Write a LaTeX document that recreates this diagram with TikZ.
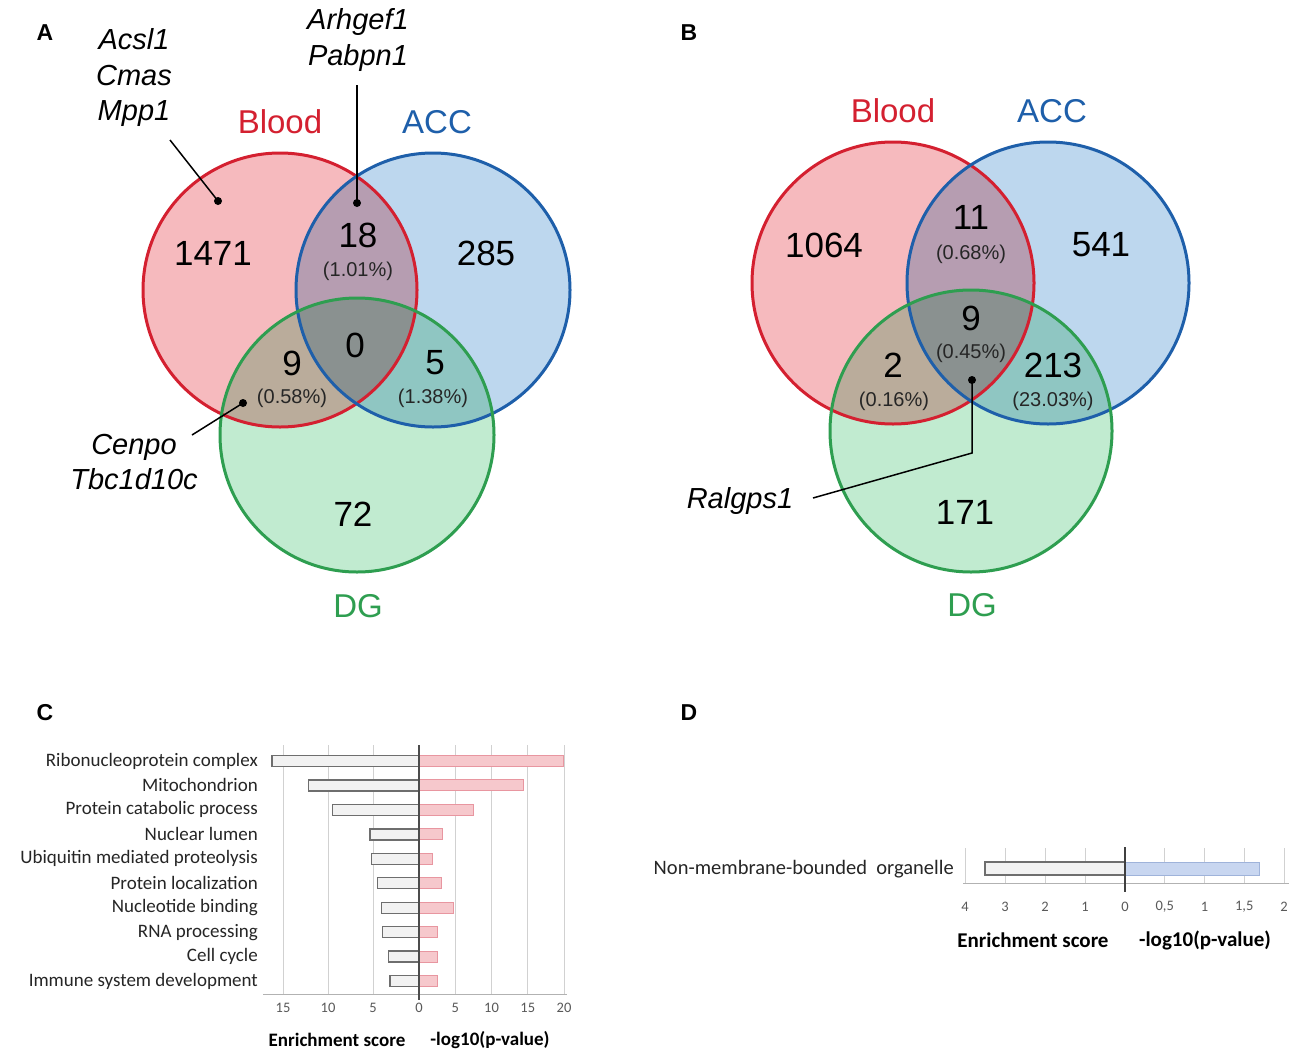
\documentclass[tikz,border=0pt]{standalone}
\usepackage{fontspec}
\setmainfont{Liberation Sans}
\newfontfamily\calfont{Carlito}
\newcommand\fsz[2]{\fontsize{#1pt}{#2pt}\selectfont}
\definecolor{cpink}{HTML}{F6BABE}
\definecolor{cblue}{HTML}{BDD7EE}
\definecolor{cgreen}{HTML}{C1EBD0}
\definecolor{cmauve}{HTML}{B69DB1}
\definecolor{ctan}{HTML}{BAAC9B}
\definecolor{cteal}{HTML}{8FC6C2}
\definecolor{cgray}{HTML}{8A9190}
\definecolor{sred}{HTML}{D42030}
\definecolor{sblue}{HTML}{1E5FAA}
\definecolor{sgreen}{HTML}{2E9E50}
\definecolor{rpinkf}{HTML}{F6C8CC}
\definecolor{rpinkd}{HTML}{E896A0}
\definecolor{rbluef}{HTML}{C8D6F0}
\definecolor{rblued}{HTML}{9FB3DA}
\definecolor{lbarf}{HTML}{F2F2F2}
\definecolor{lbard}{HTML}{6E6E6E}
\definecolor{tickc}{HTML}{595959}
\newcommand\drawvenn[7]{%
  \fill[cpink] (#1,#2) circle[radius=#7pt];
  \fill[cblue] (#3,#4) circle[radius=#7pt];
  \fill[cgreen] (#5,#6) circle[radius=#7pt];
  \begin{scope}
    \clip (#1,#2) circle[radius=#7pt];
    \fill[cmauve] (#3,#4) circle[radius=#7pt];
    \fill[ctan] (#5,#6) circle[radius=#7pt];
  \end{scope}
  \begin{scope}
    \clip (#3,#4) circle[radius=#7pt];
    \fill[cteal] (#5,#6) circle[radius=#7pt];
  \end{scope}
  \begin{scope}
    \clip (#1,#2) circle[radius=#7pt];
    \clip (#3,#4) circle[radius=#7pt];
    \fill[cgray] (#5,#6) circle[radius=#7pt];
  \end{scope}
  \draw[sred, line width=3pt] (#1,#2) circle[radius=#7pt];
  \draw[sblue, line width=3pt] (#3,#4) circle[radius=#7pt];
  \draw[sgreen, line width=3pt] (#5,#6) circle[radius=#7pt];
}
\begin{document}
\begin{tikzpicture}[x=1pt,y=-1pt,
  num/.style={font=\fsz{35}{42}, inner sep=0pt},
  pct/.style={font=\fsz{20}{24}, text=black!85, inner sep=0pt},
  setlab/.style={font=\fsz{33}{39}, inner sep=0pt},
  gene/.style={font=\itshape\fsz{29}{35.5}, align=center, inner sep=0pt},
  panel/.style={font=\bfseries\fsz{23}{27}, inner sep=0pt},
  dot/.style={circle, fill=black, inner sep=0pt, minimum size=8pt},
  leader/.style={line width=1.5pt, black},
  term/.style={font=\calfont\fsz{19}{22}, anchor=east, text=black!85, inner sep=0pt},
  tick/.style={font=\calfont\fsz{14.5}{17}, text=tickc, inner sep=0pt},
  axtitle/.style={font=\calfont\bfseries\fsz{19}{22}, inner sep=0pt},
  grid/.style={black!18, line width=0.8pt},
  lbar/.style={draw=lbard, fill=lbarf, line width=1.3pt},
  rbarp/.style={draw=rpinkd, fill=rpinkf, line width=1pt},
  rbarb/.style={draw=rblued, fill=rbluef, line width=1pt}]
\useasboundingbox (0,0) rectangle (1300,1060);
\fill[white] (0,0) rectangle (1300,1060);

% ---------------- Panel A ----------------
\drawvenn{280}{290}{433}{290}{357}{435}{137}
\node[panel] (labA) at (45,33) {A};
\node[setlab, text=sred] (bloodA) at (280,122) {Blood};
\node[setlab, text=sblue] (accA) at (437,122) {ACC};
\node[setlab, text=sgreen] (dgA) at (358,606) {DG};
\node[num] (a1471) at (213,253) {1471};
\node[num] (a18) at (358,235) {18};
\node[pct] (a18p) at (358,271) {(1.01\%)};
\node[num] (a285) at (486,253) {285};
\node[num] (a0) at (355,345) {0};
\node[num] (a9) at (292,363) {9};
\node[pct] (a9p) at (292,398) {(0.58\%)};
\node[num] (a5) at (435,363) {5};
\node[pct] (a5p) at (433,398) {(1.38\%)};
\node[num] (a72) at (353,514) {72};
\node[gene] (gA1) at (134,78) {Acsl1\\Cmas\\Mpp1};
\node[gene] (gA2) at (358,40) {Arhgef1\\Pabpn1};
\node[gene] (gA3) at (134,462) {Cenpo\\Tbc1d10c};
\node[dot] (dA1) at (218,201) {};
\node[dot] (dA2) at (357,203) {};
\node[dot] (dA3) at (243,403) {};
\coordinate (lA1) at (170,140);
\coordinate (lA2) at (357,85);
\coordinate (lA3) at (192,435);
\draw[leader] (lA1) -- (dA1.center);
\draw[leader] (lA2) -- (dA2.center);
\draw[leader] (lA3) -- (dA3.center);

% ---------------- Panel B ----------------
\drawvenn{893}{283}{1048}{283}{971}{431}{141}
\node[panel] (labB) at (689,33) {B};
\node[setlab, text=sred] (bloodB) at (893,111) {Blood};
\node[setlab, text=sblue] (accB) at (1052,111) {ACC};
\node[setlab, text=sgreen] (dgB) at (972,605) {DG};
\node[num] (b1064) at (824,245) {1064};
\node[num] (b11) at (971,217) {11};
\node[pct] (b11p) at (971,254) {(0.68\%)};
\node[num] (b541) at (1101,245) {541};
\node[num] (b9) at (971,318) {9};
\node[pct] (b9p) at (971,353) {(0.45\%)};
\node[num] (b2) at (893,365) {2};
\node[pct] (b2p) at (894,401) {(0.16\%)};
\node[num] (b213) at (1053,365) {213};
\node[pct] (b213p) at (1053,401) {(23.03\%)};
\node[num] (b171) at (965,512) {171};
\node[gene] (gB1) at (740,501) {Ralgps1};
\node[dot] (dB1) at (972,380) {};
\coordinate (kB1) at (972,453);
\coordinate (lB1) at (813,498);
\draw[leader] (dB1.center) -- (kB1) -- (lB1);

% ---------------- Panel C ----------------
\node[panel] (labC) at (45,713) {C};
\foreach \gx in {283,328,373,455.3,491.5,527.8,564}
  \draw[grid] (\gx,745) -- (\gx,994);
\draw[black!30, line width=1pt] (263,994) -- (567,994);
\foreach \lab/\lv/\rv [count=\i from 0] in {
  Ribonucleoprotein complex/16.2/19.9,
  Mitochondrion/12.2/14.4,
  Protein catabolic process/9.5/7.5,
  Nuclear lumen/5.4/3.3,
  Ubiquitin mediated proteolysis/5.2/1.8,
  Protein localization/4.6/3.1,
  Nucleotide binding/4.1/4.8,
  RNA processing/4.0/2.6,
  Cell cycle/3.4/2.5,
  Immune system development/3.2/2.6}{
  \pgfmathsetmacro\yy{761+24.45*\i}
  \draw[lbar] ({419-9.07*\lv},\yy-5.5) rectangle (419,\yy+5.5);
  \draw[rbarp] (419,\yy-5.5) rectangle ({419+7.25*\rv},\yy+5.5);
  \node[term] (tC\i) at (258,\yy) {\lab};
}
\draw[black!70, line width=1.5pt] (419,745) -- (419,1000);
\foreach \tx/\tl [count=\j] in {283/15,328/10,373/5,419/0,455.3/5,491.5/10,527.8/15,564/20}
  \node[tick] (tkC\j) at (\tx,1008) {\tl};
\node[axtitle] (esC) at (337,1040) {Enrichment score};
\node[axtitle] (lpC) at (490,1040) {-log10(p-value)};

% ---------------- Panel D ----------------
\node[panel] (labD) at (689,713) {D};
\foreach \gx in {965,1005,1045,1085,1164.75,1204.5,1244.25,1284}
  \draw[grid] (\gx,848) -- (\gx,883);
\draw[black!30, line width=1pt] (963,883) -- (1289,883);
\draw[lbar] (985,862) rectangle (1125,875);
\draw[rbarb] (1125,862) rectangle (1259,875);
\draw[black!75, line width=1.5pt] (1125,847) -- (1125,892);
\node[font=\calfont\fsz{20.5}{24}, anchor=east, text=black!85, inner sep=0pt] (tD1) at (954,869) {Non-membrane-bounded~ organelle};
\foreach \tx/\tl [count=\j] in {965/4,1005/3,1045/2,1085/1,1125/0,1164.75/{0,5},1204.5/1,1244.25/{1,5},1284/2}
  \node[tick] (tkD\j) at (\tx,907) {\tl};
\node[axtitle, font=\calfont\bfseries\fsz{21}{24}] (esD) at (1033,940) {Enrichment score};
\node[axtitle, font=\calfont\bfseries\fsz{21}{24}] (lpD) at (1205,940) {-log10(p-value)};
\end{tikzpicture}
\end{document}
